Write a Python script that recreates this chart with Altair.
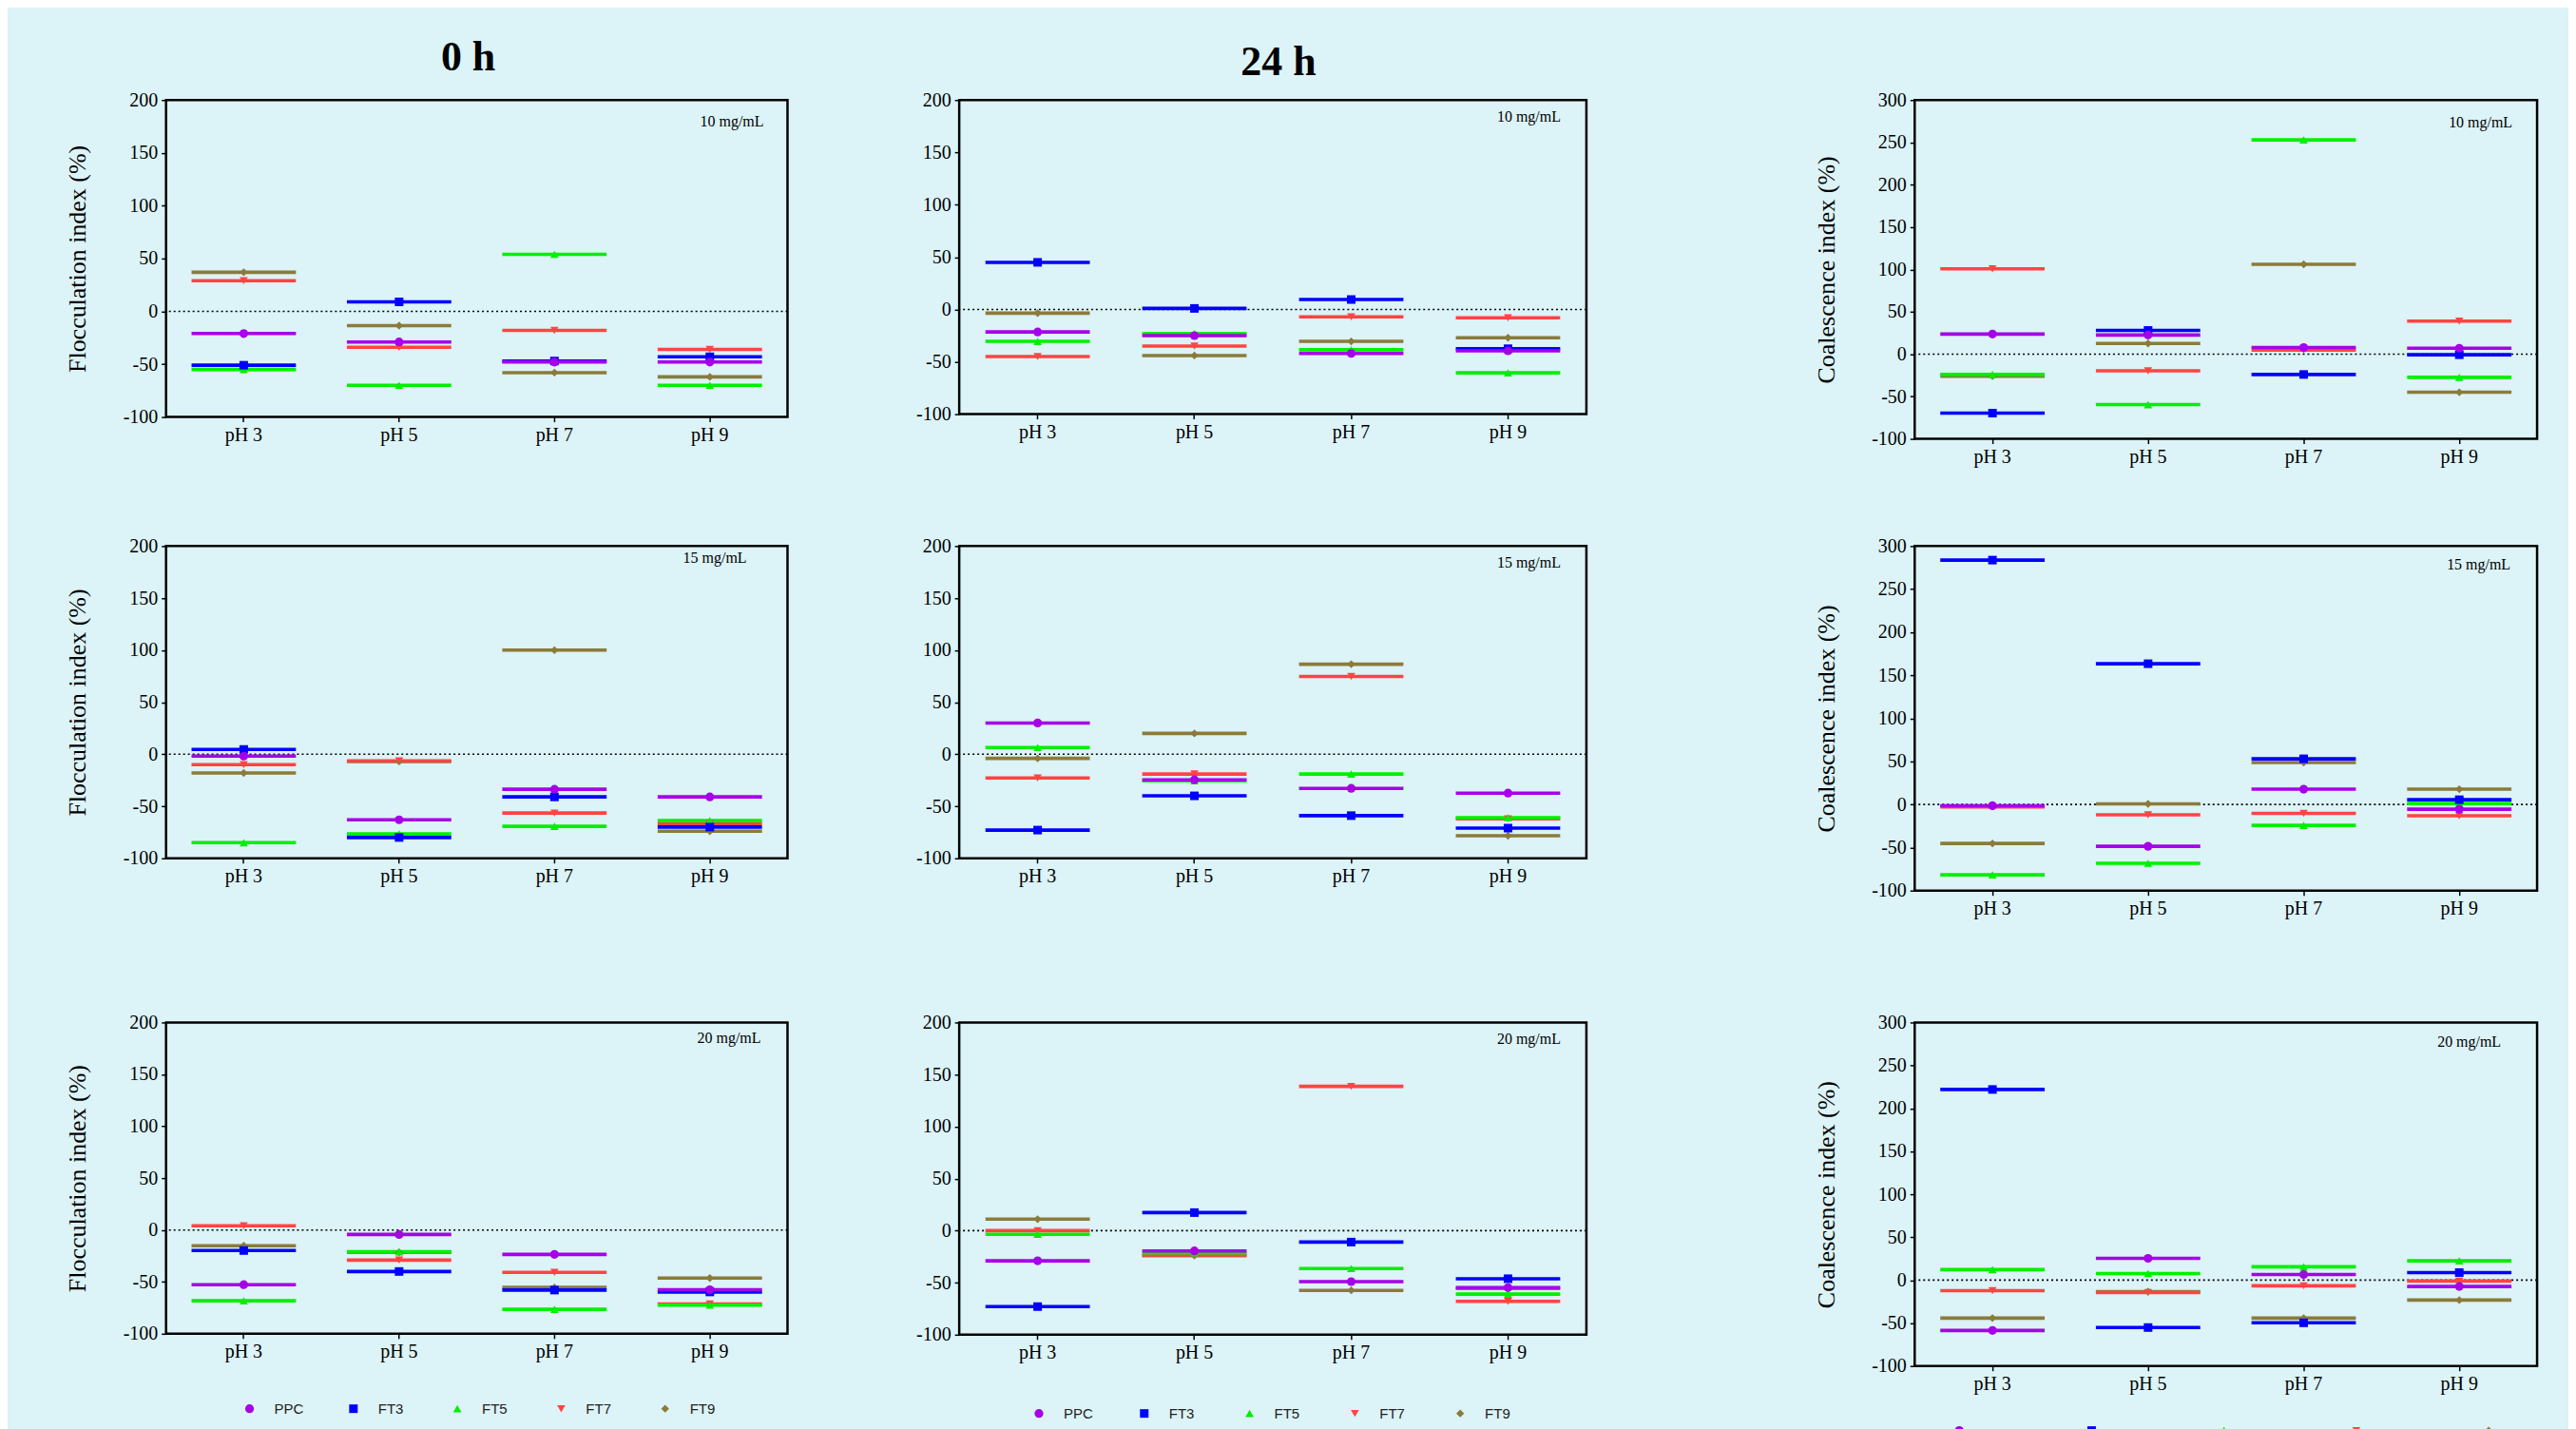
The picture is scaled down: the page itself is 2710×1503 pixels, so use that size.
import altair as alt
import pandas as pd

SERIF = "Liberation Serif"
SANS = "Liberation Sans"
BG = "#dcf3f7"

SERIES = ["PPC", "FT3", "FT5", "FT7", "FT9"]
PH = ["pH 3", "pH 5", "pH 7", "pH 9"]
COLORS = ["#a600e8", "#0000ff", "#00f000", "#ff4444", "#8b7b3a"]
SHAPES = ["circle", "square", "triangle-up", "triangle-down", "diamond"]
SIZES = [85, 70, 80, 80, 60]
CONC = ["10 mg/mL", "15 mg/mL", "20 mg/mL"]

# rows: PPC, FT3, FT5, FT7, FT9 ; columns: pH 3, pH 5, pH 7, pH 9
floc_0h_10 = [[-21, -29, -48, -48],
              [-51, 9, -47, -43],
              [-55, -70, 54, -70],
              [29, -34, -18, -36],
              [37, -13.5, -58, -62]]
floc_24h_10 = [[-21.5, -25, -42, -39.5],
               [45, 1, 9.5, -37.5],
               [-30.5, -23, -38.5, -60.5],
               [-45, -35, -7, -8],
               [-3.5, -44, -30.5, -27]]
coal_10 = [[23.7, 22.6, 7.8, 7],
           [-69.6, 28, -24, -0.7],
           [-24, -59.6, 253, -27.4],
           [100.7, -19.6, 4.8, 39],
           [-26, 12.6, 106, -45]]
floc_0h_15 = [[-1.8, -63, -33.7, -41],
              [4.6, -80, -41, -70],
              [-85, -76.6, -69.3, -63.8],
              [-10, -6.4, -56.5, -66.6],
              [-18, -7, 100, -74]]
floc_24h_15 = [[30, -24.6, -32.8, -37.4],
               [-72.9, -40, -59, -71],
               [6.4, -25.5, -19, -61],
               [-22.8, -19, 74.7, -62],
               [-4, 20, 86.5, -78.3]]
coal_15 = [[-1.5, -48.6, 17.7, -5.5],
           [283.7, 163.4, 53, 5.5],
           [-81.7, -68.4, -24.3, 1.1],
           [-3, -12.1, -10.3, -13.2],
           [-45.3, 0.7, 48.6, 17.7]]
floc_0h_20 = [[-52.7, -4.3, -23.5, -57.6],
              [-19.8, -40, -57.9, -59.7],
              [-68.2, -21, -76.5, -72.5],
              [4, -29, -40.8, -71.3],
              [-15.2, -21.6, -55.4, -46.3]]
floc_24h_20 = [[-29, -19.5, -49, -54.7],
               [-73, 17.3, -11, -46.2],
               [-3.6, -21.3, -36.5, -61],
               [0, -23.4, 138.6, -68],
               [11, -24, -57.4, -55.6]]
coal_20 = [[-58.6, 25.4, 6.6, -7.4],
           [222, -55.2, -49.7, 8.8],
           [12.2, 7.7, 15.5, 22.5],
           [-12.2, -14.4, -6.6, -1.1],
           [-44.2, -13.3, -44.2, -23.2]]


def frame(rows):
    recs = []
    for s in reversed(range(len(SERIES))):  # PPC drawn last (on top)
        for p, ph in enumerate(PH):
            recs.append({"series": SERIES[s], "pH": ph, "value": rows[s][p]})
    return pd.DataFrame(recs)


color_enc = alt.Color("series:N", scale=alt.Scale(domain=SERIES, range=COLORS), legend=None)
shape_enc = alt.Shape("series:N", scale=alt.Scale(domain=SERIES, range=SHAPES), legend=None)
size_enc = alt.Size("series:N", scale=alt.Scale(domain=SERIES, range=SIZES), legend=None)


def panel(rows, ymax, w, h, ytitle, conc, inset, base, title=None, tbase=None, tshift=0):
    df = frame(rows)
    xenc = alt.X("pH:N", sort=PH,
                 scale=alt.Scale(domain=PH, paddingInner=0, paddingOuter=0),
                 axis=alt.Axis(title=None, labelAngle=0, domain=False, ticks=True,
                               tickSize=5, tickWidth=1.5, tickColor="black",
                               bandPosition=0.5, labelFont=SERIF, labelFontSize=20,
                               labelColor="black", labelPadding=4))
    ykw = dict(values=list(range(-100, ymax + 1, 50)), grid=False, domain=False,
               ticks=True, tickSize=5, tickWidth=1.5, tickColor="black",
               labelFont=SERIF, labelFontSize=20, labelColor="black",
               labelPadding=4, labelExpr="'' + datum.value")
    if ytitle:
        ykw.update(title=ytitle, titleFont=SERIF, titleFontSize=26,
                   titleFontWeight="normal", titleColor="black", titleX=-93,
                   titleY=h / 2, titleAlign="center", titleBaseline="middle",
                   titleAngle=270)
    else:
        ykw.update(title=None)
    yenc = alt.Y("value:Q", scale=alt.Scale(domain=[-100, ymax], nice=False, zero=False),
                 axis=alt.Axis(**ykw))

    zero = alt.Chart(pd.DataFrame({"value": [0]})).mark_rule(
        color="black", strokeWidth=1.6, strokeDash=[2, 3]).encode(y=yenc)
    ticks = alt.Chart(df).mark_tick(thickness=3.6, size=110, opacity=1).encode(
        x=xenc, y=yenc, color=color_enc)
    pts = alt.Chart(df).mark_point(filled=True, opacity=1).encode(
        x=xenc, y=yenc, color=color_enc, shape=shape_enc, size=size_enc)
    ann = alt.Chart(pd.DataFrame({"t": [conc]})).mark_text(
        align="right", baseline="alphabetic", font=SERIF, fontSize=16, color="black"
    ).encode(x=alt.value(w - inset), y=alt.value(base), text="t:N")
    layers = [zero, ticks, pts, ann]
    if title:
        layers.append(alt.Chart(pd.DataFrame({"t": [title]})).mark_text(
            align="center", baseline="alphabetic", font=SERIF, fontSize=44,
            fontWeight="bold", color="black"
        ).encode(x=alt.value(w / 2 + tshift), y=alt.value(-tbase), text="t:N"))
    return alt.layer(*layers).properties(width=w, height=h)


def legend(w, rng, yc, labels=True):
    df = pd.DataFrame({"series": SERIES})
    xenc = alt.X("series:N", sort=SERIES,
                 scale=alt.Scale(type="point", domain=SERIES, range=rng, padding=0),
                 axis=None)
    pts = alt.Chart(df).mark_point(filled=True, opacity=1).encode(
        x=xenc, y=alt.value(yc), color=color_enc, shape=shape_enc, size=size_enc)
    layers = [pts]
    if labels:
        layers.append(alt.Chart(df).mark_text(
            align="left", baseline="middle", dx=26, font=SANS, fontSize=15,
            color="#222222").encode(x=xenc, y=alt.value(yc), text="series:N"))
    return alt.layer(*layers).properties(width=w, height=80,
                                         view=alt.ViewBackground(strokeOpacity=0))


def spacer(w, h):
    return alt.Chart(pd.DataFrame({"a": [0]})).mark_point(opacity=0).encode(
        x=alt.value(0), y=alt.value(0)
    ).properties(width=w, height=h, view=alt.ViewBackground(strokeOpacity=0))


FT = "Flocculation index (%)"
CT = "Coalescence index (%)"
W1, W2, W3 = 655, 661, 656
G1, G2 = 181, 346

cells = [
    panel(floc_0h_10, 200, W1, 334, FT, CONC[0], 25, 28, "0 h", 31, -9),
    spacer(G1, 10),
    panel(floc_24h_10, 200, W2, 331, None, CONC[0], 27, 23, "24 h", 26, 6),
    spacer(G2, 10),
    panel(coal_10, 300, W3, 357, CT, CONC[0], 26, 29),
]
cells += [spacer(10, 113) for _ in range(5)]
cells += [
    panel(floc_0h_15, 200, W1, 329, FT, CONC[1], 43, 18),
    spacer(G1, 10),
    panel(floc_24h_15, 200, W2, 329, None, CONC[1], 27, 23),
    spacer(G2, 10),
    panel(coal_15, 300, W3, 363, CT, CONC[1], 28, 25),
]
cells += [spacer(10, 139) for _ in range(5)]
cells += [
    panel(floc_0h_20, 200, W1, 328, FT, CONC[2], 28, 22),
    spacer(G1, 10),
    panel(floc_24h_20, 200, W2, 329, None, CONC[2], 27, 23),
    spacer(G2, 10),
    panel(coal_20, 300, W3, 362, CT, CONC[2], 38, 26),
]
cells += [
    legend(W1, [88, 526], 45),
    spacer(G1, 10),
    legend(W2, [84, 528], 50),
    spacer(G2, 10),
    legend(W3, [47, 605], 68, labels=False),
]

chart = alt.concat(
    *cells, columns=5, spacing=0, bounds="flush", align="each"
).properties(
    padding={"left": 59, "top": 28, "right": 30, "bottom": 5},
    background=BG,
).configure_view(stroke="black", strokeWidth=2.5)

chart.save("out.html", embed_options={"renderer": "svg", "actions": False})
